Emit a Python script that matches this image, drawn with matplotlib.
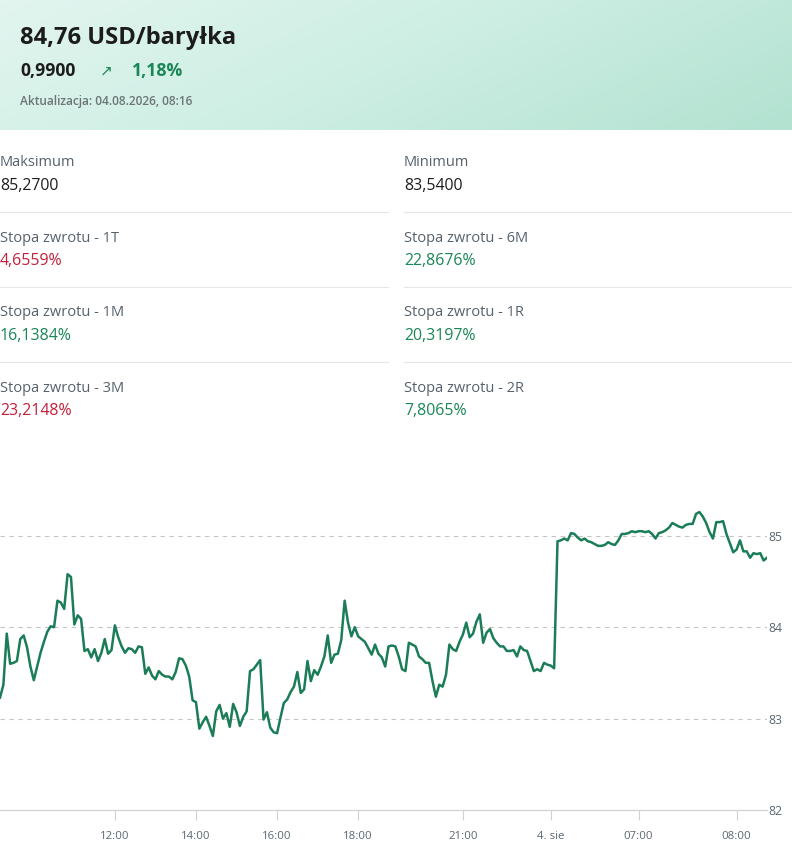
import matplotlib
matplotlib.use('Agg')
import matplotlib.pyplot as plt
import numpy as np
from matplotlib.colors import LinearSegmentedColormap

# header texts
price_title = '84,76 USD/baryłka'
change_abs = '0,9900'
change_pct = '1,18%'
updated = 'Aktualizacja: 04.08.2026, 08:16'

# stats (label, value, colour key)
stats_left = [('Maksimum', '85,2700', 'n'),
              ('Stopa zwrotu - 1T', '4,6559%', 'r'),
              ('Stopa zwrotu - 1M', '16,1384%', 'g'),
              ('Stopa zwrotu - 3M', '23,2148%', 'r')]
stats_right = [('Minimum', '83,5400', 'n'),
               ('Stopa zwrotu - 6M', '22,8676%', 'g'),
               ('Stopa zwrotu - 1R', '20,3197%', 'g'),
               ('Stopa zwrotu - 2R', '7,8065%', 'g')]

# price series (evenly spaced samples)
prices_day1 = [83.23, 83.37, 83.93, 83.60, 83.61, 83.63, 83.87, 83.91, 83.78, 83.57,
               83.42, 83.57, 83.72, 83.84, 83.95, 84.01, 84.00, 84.29, 84.27, 84.20,
               84.58, 84.55, 84.03, 84.13, 84.09, 83.74, 83.76, 83.67, 83.76, 83.63,
               83.72, 83.87, 83.71, 83.75, 84.02, 83.89, 83.79, 83.72, 83.77,
               83.76, 83.72, 83.79, 83.78, 83.49, 83.56, 83.47, 83.43, 83.52, 83.48,
               83.46, 83.46, 83.43, 83.51, 83.66, 83.65, 83.58, 83.46, 83.20, 83.18,
               82.89, 82.96, 83.02, 82.92, 82.81, 83.08, 83.15, 83.00, 83.06, 82.91,
               83.16, 83.07, 82.92, 83.02, 83.08, 83.52, 83.54, 83.59, 83.64, 82.99,
               83.07, 82.90, 82.85,
               82.84, 83.01, 83.17, 83.21, 83.29, 83.35, 83.51, 83.28, 83.32, 83.63,
               83.41, 83.53, 83.48, 83.57, 83.68, 83.91, 83.61, 83.70, 83.71, 83.86,
               84.29, 84.05, 83.90, 84.00, 83.90, 83.87, 83.84, 83.77, 83.70, 83.81,
               83.71, 83.67, 83.57, 83.79, 83.80, 83.79, 83.68, 83.54, 83.52,
               83.83, 83.81, 83.79, 83.68, 83.65, 83.61, 83.61, 83.41, 83.24, 83.37,
               83.35, 83.48, 83.81, 83.76, 83.74, 83.84, 83.92, 84.05, 83.89, 83.93,
               84.06, 84.14, 83.83, 83.94, 83.98, 83.88, 83.83, 83.79, 83.79, 83.74,
               83.74, 83.75, 83.68, 83.79, 83.75, 83.74, 83.63, 83.52, 83.54, 83.52,
               83.61, 83.59, 83.58, 83.55]
prices_day2 = [84.94, 84.95, 84.97, 84.95, 85.03, 85.02, 84.98, 84.95, 84.97, 84.94,
               84.93, 84.91, 84.89, 84.89, 84.90, 84.93, 84.91, 84.90, 84.95, 85.02,
               85.02, 85.03, 85.05, 85.04, 85.05, 85.05, 85.04, 85.05, 85.02, 84.97,
               85.03, 85.04, 85.06, 85.09, 85.14, 85.12, 85.10, 85.09, 85.12, 85.13,
               85.13, 85.24, 85.26, 85.21, 85.14, 85.04, 84.97, 85.15, 85.15, 85.16,
               85.02, 84.92, 84.82, 84.85, 84.95, 84.83, 84.83, 84.76, 84.81, 84.80,
               84.81, 84.73, 84.76]
prices = prices_day1 + prices_day2

tick_labels = ['12:00', '14:00', '16:00', '18:00', '21:00', '4. sie', '07:00', '08:00']
tick_index = [34, 58, 82, 106, 137, 163, 189, 218]
y_ticks = [82, 83, 84, 85]

GREEN = '#1a8556'
LINE = '#1b7d58'
RED = '#c21f3a'
DARK = '#1c1c1c'
GREY = '#56616c'
W, H = 792, 865


def fx(x):
    return x / W


def fy(y):
    return 1 - y / H


plt.rcParams['font.family'] = ['Open Sans', 'DejaVu Sans']
fig = plt.figure(figsize=(W / 100, H / 100), dpi=100)

# header with soft green gradient
hdr = fig.add_axes([0, fy(130), 1, 130 / H])
gx, gy = np.meshgrid(np.linspace(0, 1, 200), np.linspace(0, 1, 40))
grad = 0.75 * gx + 0.25 * gy
cmap = LinearSegmentedColormap.from_list('hdr', ['#e2f5ef', '#cdeee3', '#b3e2d1'])
hdr.imshow(grad, cmap=cmap, aspect='auto', extent=[0, 1, 0, 1])
hdr.axis('off')

fig.text(fx(20), fy(38), price_title, fontsize=17.1, fontweight='bold', color=DARK, va='center')
fig.text(fx(20), fy(71), change_abs, fontsize=12.6, fontweight='bold', color=DARK, va='center')
fig.text(fx(100), fy(71), '↗', fontsize=11, color=GREEN, va='center', family=['DejaVu Sans'])
fig.text(fx(132), fy(71), change_pct, fontsize=12.7, fontweight='bold', color=GREEN, va='center')
fig.text(fx(20), fy(102), updated, fontsize=8.6, fontweight='semibold', color='#6c7478', va='center')

# stats block
colour = {'n': DARK, 'r': RED, 'g': GREEN}
for col_x, x_end, rows in [(0, 388, stats_left), (404, 792, stats_right)]:
    for i, (lab, val, c) in enumerate(rows):
        top = 163 + i * 75
        fig.text(fx(col_x), fy(top), lab, fontsize=10.5, fontweight='medium', color=GREY, va='center')
        fig.text(fx(col_x), fy(top + 23), val, fontsize=11.4, fontweight='medium',
                 color=colour[c], va='center')
        if i < len(rows) - 1:
            fig.add_artist(plt.Line2D([fx(col_x), fx(x_end)], [fy(top + 49)] * 2,
                                      color='#e3e5e6', lw=0.8))

# price chart
ax = fig.add_axes([0, fy(810), 767 / W, (810 - 470) / H])
x = np.arange(len(prices))
ax.plot(x, prices, color=LINE, lw=1.8, solid_joinstyle='round')
ax.set_xlim(0, len(prices) - 1)
ax.set_ylim(82, 85.72)
ax.set_yticks(y_ticks)
ax.yaxis.tick_right()
ax.tick_params(axis='y', length=0, pad=1, labelsize=8.8, labelcolor='#5b6770')
ax.set_xticks(tick_index)
ax.set_xticklabels(tick_labels)
ax.tick_params(axis='x', length=7, width=0.8, color='#cfd2d4', pad=8,
               labelsize=8.2, labelcolor='#5b6770')
ax.grid(axis='y', color='#c4c4c4', ls=(0, (4, 4)), lw=0.8)
for s in ['top', 'left', 'right']:
    ax.spines[s].set_visible(False)
ax.spines['bottom'].set_color('#cfd2d4')
ax.spines['bottom'].set_linewidth(0.8)
ax.set_axisbelow(True)

plt.savefig('out.png', dpi=100)
